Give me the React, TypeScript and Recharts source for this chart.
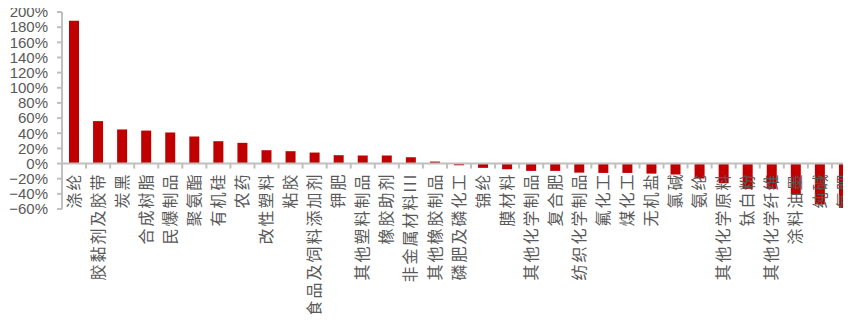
import { BarChart, Bar, XAxis, YAxis, ReferenceLine } from 'recharts';

// 子行业名称
const industries = [
  '涤纶', '胶黏剂及胶带', '炭黑', '合成树脂', '民爆制品', '聚氨酯', '有机硅', '农药',
  '改性塑料', '粘胶', '食品及饲料添加剂', '钾肥', '其他塑料制品', '橡胶助剂', '非金属材料III',
  '其他橡胶制品', '磷肥及磷化工', '锦纶', '膜材料', '其他化学制品', '复合肥', '纺织化学制品',
  '氟化工', '煤化工', '无机盐', '氯碱', '氨纶', '其他化学原料', '钛白粉', '其他化学纤维',
  '涂料油墨', '纯碱', '氮肥',
];

// 涨跌幅（%）
const changes = [
  188.5, 56, 45, 43.5, 41, 35.7, 29.5, 27.3,
  17.6, 16.3, 14.5, 11, 10.6, 10.6, 8.3,
  2.6, -2.3, -5.7, -7.5, -9.7, -9.7, -12,
  -12.4, -12.4, -13.3, -14.5, -19.8, -26, -33.5, -33.5,
  -40.5, -54, -58.5,
];

const yTicks = [-60, -40, -20, 0, 20, 40, 60, 80, 100, 120, 140, 160, 180, 200];

const data = industries.map((name, i) => ({ name, value: changes[i] }));

const W = 856;
const H = 322;
const AXIS_W = 62;
const TOP = 12;
const XAXIS_H = 113;
const plotH = H - TOP - XAXIS_H;
const yMin = yTicks[0];
const yMax = yTicks[yTicks.length - 1];
const zeroY = TOP + (plotH * yMax) / (yMax - yMin);
const band = (W - AXIS_W) / industries.length;

const GRAY = '#BFBFBF';
const TEXT = '#595959';

const fmt = (v: number) => `${v < 0 ? '\u2212' : ''}${Math.abs(v)}%`;

// 类目标签画在零轴下方，竖排
function CategoryTick(props: any) {
  const { x, payload } = props;
  const left = x - band / 2;
  return (
    <g>
      <line x1={left} x2={left} y1={zeroY} y2={zeroY + 5} stroke={GRAY} strokeWidth={2} />
      <text
        transform={`translate(${x},${zeroY + 9}) rotate(-90)`}
        textAnchor="end"
        dy="0.35em"
        fill={TEXT}
        fontSize={16}
        letterSpacing={2}
        fontFamily="'Noto Sans CJK SC', sans-serif"
      >
        {payload.value}
      </text>
    </g>
  );
}

export default function App() {
  return (
    <div style={{ margin: -8, width: 851, height: H, overflow: 'hidden', background: '#fff' }}>
      <BarChart width={W} height={H} data={data} margin={{ top: TOP, right: 0, left: 0, bottom: 0 }}>
        <XAxis
          dataKey="name"
          interval={0}
          height={XAXIS_H}
          axisLine={false}
          tickLine={false}
          tick={<CategoryTick />}
        />
        <YAxis
          width={AXIS_W}
          domain={[yMin, yMax]}
          ticks={yTicks}
          interval={0}
          allowDataOverflow
          tickFormatter={fmt}
          axisLine={{ stroke: GRAY, strokeWidth: 2 }}
          tickLine={{ stroke: GRAY, strokeWidth: 2 }}
          tickSize={5}
          tickMargin={9}
          tick={{ fill: TEXT, fontSize: 15, fontFamily: "'Liberation Sans', Arial, sans-serif" }}
        />
        <Bar dataKey="value" fill="#C00000" barSize={10} isAnimationActive={false} />
        <ReferenceLine y={0} stroke={GRAY} strokeWidth={2} />
      </BarChart>
    </div>
  );
}
